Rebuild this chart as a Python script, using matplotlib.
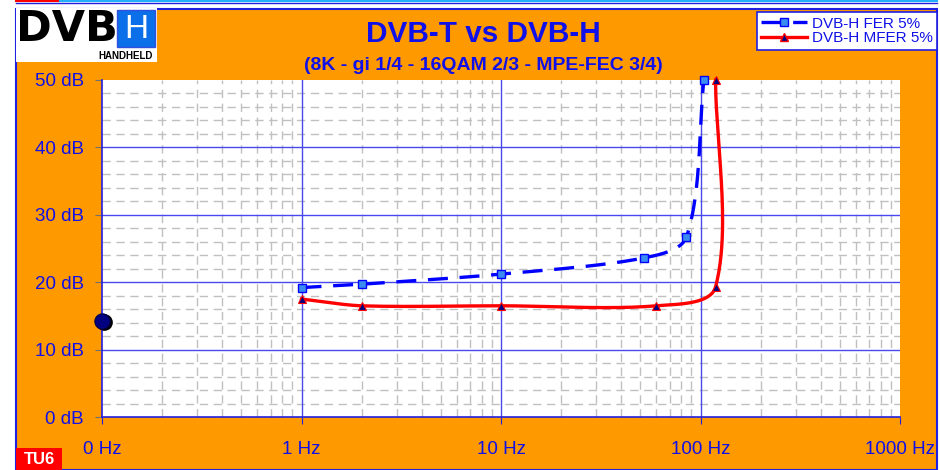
import numpy as np
import matplotlib
matplotlib.use("Agg")
import matplotlib.pyplot as plt
from matplotlib.patches import Rectangle
from matplotlib.lines import Line2D

plt.rcParams['font.family'] = ['Liberation Sans', 'DejaVu Sans']

# ---- data ----
fer_x = [1, 2, 10, 52, 85, 104]
fer_y = [19.2, 19.7, 21.2, 23.6, 26.7, 50]
mfer_x = [1, 2, 10, 60, 119, 119]
mfer_y = [17.5, 16.5, 16.5, 16.5, 19.3, 50]
dvbt_x = [0.1]
dvbt_y = [14.3]
x_ticks = [0.1, 1, 10, 100, 1000]
x_labels = ["0 Hz", "1 Hz", "10 Hz", "100 Hz", "1000 Hz"]
y_ticks = [0, 10, 20, 30, 40, 50]
y_labels = ["0 dB", "10 dB", "20 dB", "30 dB", "40 dB", "50 dB"]
series_labels = ["DVB-H FER 5%", "DVB-H MFER 5%"]

W, H = 940, 470
BLUE = '#1010E8'
ORANGE = '#FF9900'

fig = plt.figure(figsize=(W / 100, H / 100), dpi=100, facecolor='white')

def fx(px):
    return px / W

def fy(py):
    return 1 - py / H

# background frame
fig.add_artist(Rectangle((fx(16), 0), fx(937) - fx(16), fy(9), transform=fig.transFigure,
                         facecolor=ORANGE, edgecolor='#2020E0', lw=1.5, zorder=0))
# top strip
fig.add_artist(Line2D([fx(16), fx(60)], [fy(1), fy(1)], transform=fig.transFigure, color='#FF0000', lw=1.5))
fig.add_artist(Line2D([fx(60), fx(937)], [fy(1), fy(1)], transform=fig.transFigure, color='#20B0FF', lw=1.5))
fig.add_artist(Line2D([fx(16), fx(937)], [fy(3), fy(3)], transform=fig.transFigure, color='#2020E0', lw=1))

# logo
fig.add_artist(Rectangle((fx(16), fy(62)), fx(157) - fx(16), fy(8) - fy(62), transform=fig.transFigure,
                         facecolor='white', edgecolor='none', zorder=1))
fig.text(fx(16), fy(29), "DVB", fontsize=31, fontweight='bold', color='black', ha='left', va='center',
         family='DejaVu Sans', zorder=2)
fig.add_artist(Rectangle((fx(117), fy(47)), fx(155) - fx(117), fy(10) - fy(47), transform=fig.transFigure,
                         facecolor='#0A6FE8', edgecolor='#3050E0', lw=1, zorder=2))
fig.text(fx(136), fy(29), "H", fontsize=24, color='white', ha='center', va='center', zorder=3)
fig.text(fx(126), fy(56), "HANDHELD", fontsize=7, fontweight='bold', color='black', ha='center', va='center',
         zorder=3)

# titles
fig.text(fx(483), fy(34), "DVB-T vs DVB-H", fontsize=21.4, fontweight='bold', color=BLUE,
         ha='center', va='center')
fig.text(fx(483), fy(66), "(8K - gi 1/4 - 16QAM 2/3 - MPE-FEC 3/4)", fontsize=14, fontweight='bold',
         color=BLUE, ha='center', va='center')

# TU6 tag
fig.add_artist(Rectangle((fx(16), 0), fx(62) - fx(16), fy(448), transform=fig.transFigure,
                         facecolor='#FF0000', edgecolor='none', zorder=2))
fig.text(fx(39), fy(460), "TU6", fontsize=12, fontweight='bold', color='white', ha='center', va='center',
         zorder=3)

# axes
ax = fig.add_axes([fx(102), fy(417), fx(900) - fx(102), fy(80) - fy(417)])
ax.set_facecolor('white')
ax.set_xscale('log')
ax.set_xlim(0.1, 1000)
ax.set_ylim(0, 50)

# minor grid
for dec in [0.1, 1, 10, 100]:
    for m in range(2, 10):
        ax.axvline(dec * m, color='#C0C0C0', lw=1, ls=(0, (6, 4)), zorder=1)
for yv in np.arange(2, 50, 2):
    if yv % 10:
        ax.axhline(yv, color='#C0C0C0', lw=1, ls=(0, (6, 4)), zorder=1)
# major grid
for xv in x_ticks[1:-1]:
    ax.axvline(xv, color='#4848F0', lw=1, zorder=2)
for yv in y_ticks[1:-1]:
    ax.axhline(yv, color='#4848F0', lw=1, zorder=2)

for s in ['top', 'right']:
    ax.spines[s].set_visible(False)
for s in ['left', 'bottom']:
    ax.spines[s].set_color('#2020E0')
    ax.spines[s].set_linewidth(1.2)

ax.set_xticks(x_ticks)
ax.set_xticklabels(x_labels)
ax.set_yticks(y_ticks)
ax.set_yticklabels(y_labels)
ax.minorticks_off()
ax.tick_params(axis='x', direction='out', length=5, color='#2020E0', labelsize=13.5, labelcolor=BLUE, pad=12)
ax.tick_params(axis='y', direction='out', length=5, color='#707070', labelsize=13.5, labelcolor=BLUE, pad=8)


def smooth(xs, ys, n=50, f=0.3):
    pts = ax.transData.transform(np.column_stack([xs, ys]))
    out = [pts[:1]]
    k = len(pts)

    def unit(v):
        nv = np.hypot(*v)
        return v / nv if nv > 0 else v

    for i in range(k - 1):
        p0 = pts[max(i - 1, 0)]
        p1 = pts[i]
        p2 = pts[i + 1]
        p3 = pts[min(i + 2, k - 1)]
        L = np.hypot(*(p2 - p1))
        c1 = p1 + unit(p2 - p0) * L * f
        c2 = p2 - unit(p3 - p1) * L * f
        t = np.linspace(0, 1, n)[1:, None]
        seg = (1 - t) ** 3 * p1 + 3 * (1 - t) ** 2 * t * c1 + 3 * (1 - t) * t ** 2 * c2 + t ** 3 * p2
        out.append(seg)
    d = ax.transData.inverted().transform(np.vstack(out))
    return d[:, 0], d[:, 1]


sx, sy = smooth(fer_x, fer_y)
ax.plot(sx, sy, color='#0000FF', lw=2.4, ls=(0, (6, 3.5)), zorder=4, clip_on=False)
ax.plot(fer_x, fer_y, ls='none', marker='s', markersize=6, markerfacecolor='#3A8CF0',
        markeredgecolor='#0000FF', markeredgewidth=1, zorder=5, clip_on=False)

rx, ry = smooth(mfer_x, mfer_y)
ax.plot(rx, ry, color='#FF0000', lw=2.4, zorder=4, clip_on=False)
ax.plot(mfer_x, mfer_y, ls='none', marker='^', markersize=6, markerfacecolor='#000080',
        markeredgecolor='#FF0000', markeredgewidth=0.8, zorder=5, clip_on=False)

# DVB-T point (with a small shadow)
ax.plot(dvbt_x, dvbt_y, ls='none', marker='o', markersize=11, markerfacecolor='#000000',
        markeredgecolor='#000000', zorder=6, clip_on=False,
        transform=ax.transData + matplotlib.transforms.ScaledTranslation(1.5 / 100, -1.5 / 100,
                                                                          fig.dpi_scale_trans))
ax.plot(dvbt_x, dvbt_y, ls='none', marker='o', markersize=11, markerfacecolor='#000080',
        markeredgecolor='#000040', markeredgewidth=0.8, zorder=7, clip_on=False)

handles = [
    Line2D([], [], color='#0000FF', lw=2.4, ls=(0, (6, 3.5)), marker='s', markersize=6,
           markerfacecolor='#3A8CF0', markeredgecolor='#0000FF'),
    Line2D([], [], color='#FF0000', lw=2.4, marker='^', markersize=6,
           markerfacecolor='#000080', markeredgecolor='#FF0000'),
]
leg = ax.legend(handles, series_labels, loc='upper right', bbox_to_anchor=(fx(937), fy(12)),
                bbox_transform=fig.transFigure, fontsize=11, labelcolor=BLUE, frameon=True,
                fancybox=False, framealpha=1, edgecolor='#2020E0', handlelength=3.0,
                handletextpad=0.3, borderpad=0.3, labelspacing=0.05, borderaxespad=0)
leg.get_frame().set_linewidth(1.2)

fig.savefig('out.png', dpi=100, facecolor=fig.get_facecolor())
